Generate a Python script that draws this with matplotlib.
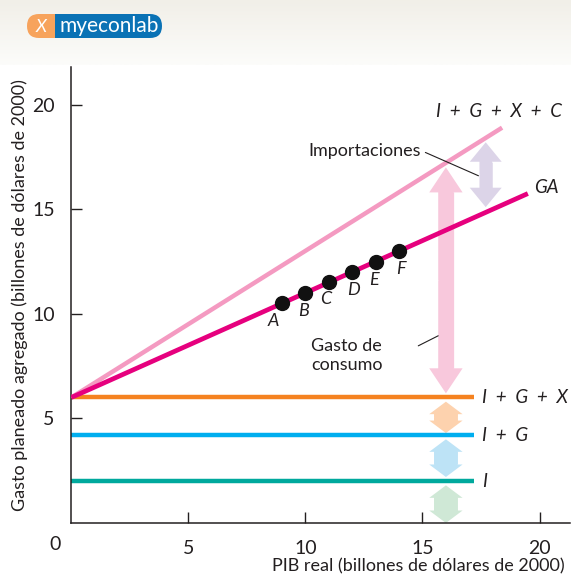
import matplotlib
matplotlib.use("Agg")
import matplotlib.pyplot as plt
import matplotlib.patches as mpatches
import numpy as np

plt.rcParams['font.family'] = ['Lato', 'DejaVu Sans']

# Values
x_ticks = [5, 10, 15, 20]
y_ticks = [5, 10, 15, 20]

investment = 2.0      # I
inv_gov = 4.2         # I + G
inv_gov_exp = 6.0     # I + G + X
flat_end_x = 17.2

ae_x = [0, 19.5]      # GA
ae_y = [6.0, 15.75]
total_x = [0, 18.4]   # I + G + X + C
total_y = [6.0, 18.9]

point_x = [9, 10, 11, 12, 13, 14]
point_y = [10.5, 11.0, 11.5, 12.0, 12.5, 13.0]
point_names = ['A', 'B', 'C', 'D', 'E', 'F']
point_offsets = [(-6, -13), (-1, -13), (-2, -12), (1, -13), (-1, -13), (1, -13)]

# arrows: x, bottom, top, colour, size (head width, tail width, head length)
arrows = [
    (16.0, 0.0, 1.8, '#cfe8d6', (24, 17, 9)),
    (16.0, 2.2, 4.0, '#bde3f6', (24, 17, 9)),
    (16.0, 4.3, 5.8, '#fdd2ae', (24, 17, 9)),
    (16.0, 6.2, 17.0, '#f8c8dc', (24, 11, 18)),
    (17.7, 15.1, 18.2, '#dcd4e8', (23, 9, 14)),
]

text_color = '#231f20'

fig = plt.figure(figsize=(5.71, 5.77), dpi=100)

# beige banner with logo
band = fig.add_axes([0, 1 - 65 / 577, 1, 65 / 577], zorder=0)
grad = np.linspace(0, 1, 50).reshape(-1, 1)
band.set_xlim(0, 571)
band.set_ylim(65, 0)
band.imshow(grad, aspect='auto', extent=[0, 571, 65, 0],
            cmap=matplotlib.colors.LinearSegmentedColormap.from_list('b', ['#f1efe8', '#fcfcfa']))
band.axis('off')
band.add_patch(mpatches.FancyBboxPatch((39, 14), 123, 24, boxstyle='round,pad=0,rounding_size=12',
                                       fc='#0a72b5', ec='none'))
band.add_patch(mpatches.FancyBboxPatch((27, 14), 40, 24, boxstyle='round,pad=0,rounding_size=12',
                                       fc='#f7a35c', ec='none'))
band.add_patch(mpatches.Rectangle((55, 14), 20, 24, fc='#0a72b5', ec='none'))
band.text(41, 26.5, 'X', color='white', fontsize=13, ha='center', va='center', fontstyle='italic')
band.text(109, 25.5, 'myeconlab', color='white', fontsize=15, ha='center', va='center')

ax = fig.add_axes([71.3 / 571, 54 / 577, (570 - 71.3) / 571, (523 - 67) / 577], zorder=1)
ax.set_xlim(0, 21.3)
ax.set_ylim(0, 21.8)
ax.patch.set_alpha(0)

for s in ['top', 'right']:
    ax.spines[s].set_visible(False)
for s in ['left', 'bottom']:
    ax.spines[s].set_linewidth(1.1)
    ax.spines[s].set_color(text_color)

ax.set_xticks(x_ticks)
ax.set_yticks(y_ticks)
ax.tick_params(axis='x', direction='in', length=8, width=1, pad=12, labelsize=14, colors=text_color)
ax.tick_params(axis='y', direction='in', length=8, width=1, pad=12, labelsize=14, colors=text_color)
ax.text(-0.7, -1.05, '0', fontsize=14, ha='center', va='center', color=text_color, clip_on=False)

# arrows first so the lines sit on top
px_per_y = (523 - 67) / 21.8
for ax_x, lo, hi, col, (hw, tw, hl) in arrows:
    mid = (lo + hi) / 2
    style = f'simple,head_width={hw},tail_width={tw},head_length={hl}'
    for end in (lo, hi):
        ax.annotate('', xy=(ax_x, end), xytext=(ax_x, mid),
                    arrowprops=dict(arrowstyle=style, fc=col, ec='none', lw=0,
                                    shrinkA=0, shrinkB=0, mutation_scale=1), zorder=1)
    # solid shaft over the join of the two halves
    head = hl * 100 / 72 / px_per_y
    ax.plot([ax_x, ax_x], [lo + head, hi - head], color=col, lw=tw, solid_capstyle='butt', zorder=1)

ax.plot([0, flat_end_x], [investment] * 2, color='#00a99d', lw=3.2, solid_capstyle='butt', zorder=2)
ax.plot([0, flat_end_x], [inv_gov] * 2, color='#00aeef', lw=3.2, solid_capstyle='butt', zorder=2)
ax.plot([0, flat_end_x], [inv_gov_exp] * 2, color='#f58220', lw=3.2, solid_capstyle='butt', zorder=2)
ax.plot(total_x, total_y, color='#f49ac1', lw=3.2, solid_capstyle='butt', zorder=3)
ax.plot(ae_x, ae_y, color='#e6007e', lw=3.4, solid_capstyle='butt', zorder=4)
ax.plot(point_x, point_y, 'o', color='#111111', ms=10, zorder=5)

for px, py, name, off in zip(point_x, point_y, point_names, point_offsets):
    ax.annotate(name, (px, py), xytext=off, textcoords='offset points', ha='center', va='center',
                fontsize=13, fontstyle='italic', color=text_color)

lab = dict(fontsize=13.5, fontstyle='italic', ha='left', va='center', color=text_color)
ax.text(15.59, 19.67, 'I  +  G  +  X  +  C', **lab)
ax.text(19.77, 16.03, 'GA', **lab)
ax.text(17.56, inv_gov_exp, 'I  +  G  +  X', **lab)
ax.text(17.56, inv_gov, 'I  +  G', **lab)
ax.text(17.56, investment, 'I', **lab)

ax.annotate('Importaciones', xy=(17.39, 16.6), xytext=(14.95, 17.8), ha='right', va='center',
            fontsize=13, color=text_color,
            arrowprops=dict(arrowstyle='-', lw=0.8, color=text_color, relpos=(1, 0.5),
                            shrinkA=1, shrinkB=0))
ax.text(10.23, 8.0, 'Gasto de\nconsumo', fontsize=13, ha='left', va='center', color=text_color,
        linespacing=1.25)
ax.annotate('', xy=(15.67, 8.95), xytext=(14.82, 8.47),
            arrowprops=dict(arrowstyle='-', lw=0.8, color=text_color, shrinkA=0, shrinkB=0))

fig.text(565 / 571, 1 - 566 / 577, 'PIB real (billones de dólares de 2000)', fontsize=13,
         ha='right', va='center', color=text_color)
fig.text(20 / 571, 1 - 295 / 577, 'Gasto planeado agregado (billones de dólares de 2000)',
         fontsize=13, rotation=90, ha='center', va='center', color=text_color)

fig.savefig('out.png', dpi=100)
